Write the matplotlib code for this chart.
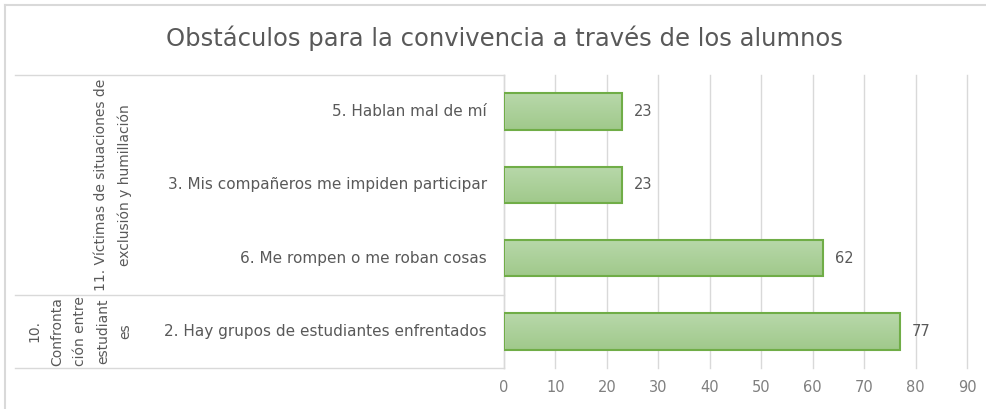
import numpy as np
import matplotlib.pyplot as plt
from matplotlib.transforms import blended_transform_factory
from matplotlib.lines import Line2D
from matplotlib.colors import LinearSegmentedColormap

title = "Obstáculos para la convivencia a través de los alumnos"
categories = ["2. Hay grupos de estudiantes enfrentados",
              "6. Me rompen o me roban cosas",
              "3. Mis compañeros me impiden participar",
              "5. Hablan mal de mí"]
values = [77, 62, 23, 23]
groups = ["10.\nConfronta\nción entre\nestudiant\nes",
          "11. Víctimas de situaciones de\nexclusión y humillación"]
group_sizes = [1, 3]
xticks = [0, 10, 20, 30, 40, 50, 60, 70, 80, 90]

text_col = '#595959'
grid_col = '#d9d9d9'

W, H = 986, 409
fig = plt.figure(figsize=(W / 100, H / 100), dpi=100)
ax = fig.add_axes([504 / W, 1 - 368 / H, (967 - 504) / W, (368 - 75) / H])

y = np.arange(len(categories))
bars = ax.barh(y, values, height=0.5, facecolor='none', edgecolor='#70ad47',
               linewidth=1.5, zorder=3)

# gradient fill inside each bar, lighter at the top
grad = np.linspace(0, 1, 50).reshape(-1, 1)
cmap = LinearSegmentedColormap.from_list('g', ['#b8d8aa', '#a0c98b'])
for b in bars:
    x0, y0 = b.get_x(), b.get_y()
    im = ax.imshow(grad, extent=[x0, x0 + b.get_width(), y0, y0 + b.get_height()],
                   cmap=cmap, aspect='auto', zorder=2, origin='upper')
    im.set_clip_path(b)

for yi, v in zip(y, values):
    ax.text(v + 2.3, yi, str(v), va='center', ha='left', fontsize=10.5, color=text_col)

ax.set_xlim(0, 90)
ax.set_ylim(-0.5, len(categories) - 0.5)
ax.set_xticks(xticks)
ax.set_xticklabels([str(t) for t in xticks], color='#7f7f7f', fontsize=10.5)
ax.tick_params(axis='x', length=0, pad=9)
ax.set_yticks([])
ax.grid(axis='x', color=grid_col, linewidth=1, zorder=0)
for gl in ax.get_xgridlines():
    gl.set_clip_on(False)
ax.set_axisbelow(True)
for s in ['top', 'right', 'bottom', 'left']:
    ax.spines[s].set_visible(False)

# category labels
for yi, c in zip(y, categories):
    ax.text(-3.3, yi, c, ha='right', va='center', fontsize=11, color=text_col)

# group axis
tr = blended_transform_factory(fig.transFigure, ax.transData)
x_left = 15 / W
x_axis = 504 / W
bounds = [-0.5]
for n in group_sizes:
    bounds.append(bounds[-1] + n)
for b in bounds:
    ax.add_line(Line2D([x_left, x_axis], [b, b], transform=tr, color=grid_col,
                       linewidth=1, clip_on=False))
ax.add_line(Line2D([x_axis, x_axis], [bounds[0], bounds[-1]], transform=tr,
                   color=grid_col, linewidth=1, clip_on=False))

group_x = [80 / W, 113 / W]
for g, gx, lo, hi in zip(groups, group_x, bounds[:-1], bounds[1:]):
    ax.text(gx, (lo + hi) / 2, g, transform=tr, rotation=90, ha='center', va='center',
            multialignment='center', fontsize=10, color=text_col, linespacing=1.8)

# title
fig.text(504 / W, 1 - 38 / H, title, ha='center', va='center', fontsize=17.5,
         color=text_col)

# chart frame (left and top visible)
fig.add_artist(Line2D([5 / W, 5 / W], [0, 1 - 5 / H], transform=fig.transFigure,
                      color=grid_col, linewidth=1.5))
fig.add_artist(Line2D([5 / W, 1], [1 - 5 / H, 1 - 5 / H], transform=fig.transFigure,
                      color=grid_col, linewidth=1.5))

plt.savefig("out.png", dpi=100)
